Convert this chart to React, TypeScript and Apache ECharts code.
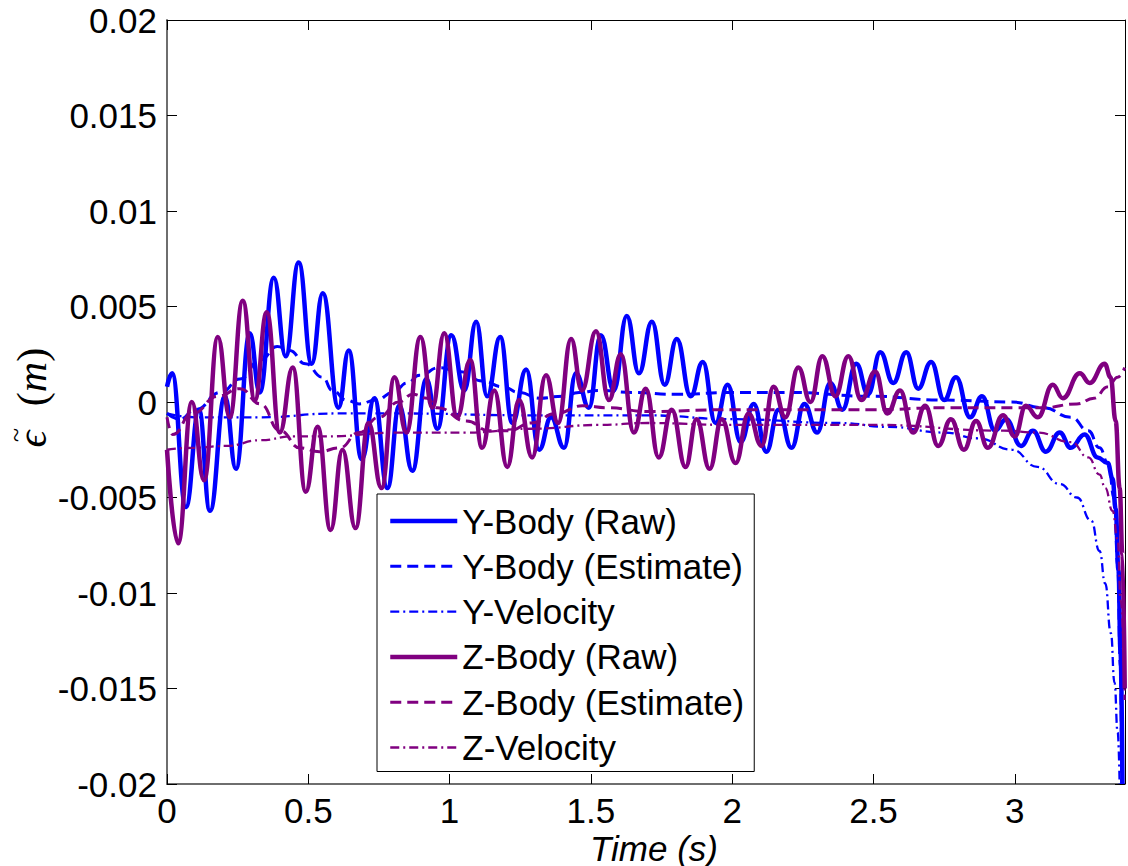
import React, { useEffect, useRef } from 'react';
import * as echarts from 'echarts';

// ---- Data (time in s, error in m) ----
const yRawT = [0.000, 0.018, 0.067, 0.113, 0.152, 0.205, 0.244, 0.293, 0.328, 0.378, 0.420, 0.466, 0.512, 0.551, 0.607, 0.643, 0.689, 0.734, 0.780, 0.822, 0.868, 0.918, 0.957, 1.006, 1.052, 1.094, 1.133, 1.179, 1.222, 1.271, 1.317, 1.359, 1.405, 1.447, 1.493, 1.535, 1.581, 1.627, 1.670, 1.716, 1.761, 1.804, 1.853, 1.896, 1.941, 1.984, 2.030, 2.076, 2.121, 2.164, 2.210, 2.255, 2.301, 2.347, 2.390, 2.439, 2.481, 2.524, 2.570, 2.616, 2.658, 2.704, 2.750, 2.792, 2.842, 2.884, 2.930, 2.969, 3.022, 3.064, 3.110, 3.159, 3.198, 3.247, 3.293, 3.329, 3.346, 3.357, 3.367, 3.374, 3.381];
const yRawV = [0.0008, 0.0015, -0.0055, -0.0004, -0.0057, 0.0003, -0.0035, 0.0036, 0.0005, 0.0065, 0.0024, 0.0073, 0.0020, 0.0057, -0.0003, 0.0027, -0.0030, 0.0002, -0.0045, -0.0002, -0.0036, 0.0012, -0.0014, 0.0035, 0.0006, 0.0042, 0.0003, 0.0034, -0.0011, 0.0017, -0.0025, -0.0008, -0.0024, 0.0015, -0.0003, 0.0035, 0.0006, 0.0045, 0.0015, 0.0042, 0.0009, 0.0033, 0.0003, 0.0021, -0.0011, 0.0009, -0.0021, -0.0001, -0.0026, -0.0004, -0.0024, -0.0001, -0.0016, 0.0010, -0.0004, 0.0020, 0.0004, 0.0026, 0.0010, 0.0026, 0.0007, 0.0021, 0.0001, 0.0013, -0.0008, 0.0003, -0.0015, -0.0009, -0.0023, -0.0015, -0.0026, -0.0016, -0.0024, -0.0017, -0.0029, -0.0032, -0.0040, -0.0056, -0.0088, -0.0130, -0.0200];

const yEstT = [0.000, 0.046, 0.100, 0.190, 0.258, 0.330, 0.390, 0.434, 0.490, 0.550, 0.586, 0.635, 0.680, 0.740, 0.800, 0.850, 0.893, 0.964, 1.034, 1.116, 1.187, 1.246, 1.317, 1.400, 1.458, 1.530, 1.645, 1.800, 2.000, 2.200, 2.490, 2.750, 2.990, 3.100, 3.200, 3.260, 3.300, 3.330, 3.353, 3.364, 3.374, 3.378];
const yEstV = [-0.0006, -0.0009, -0.0004, 0.0005, 0.0012, 0.0022, 0.0029, 0.0027, 0.0020, 0.0013, 0.0006, 0.0001, -0.0001, 0.0001, 0.0005, 0.0010, 0.0014, 0.0018, 0.0016, 0.0011, 0.0008, 0.0005, 0.0002, 0.0003, 0.0005, 0.0006, 0.0005, 0.0004, 0.0005, 0.0005, 0.0003, 0.0001, 0.0000, -0.0003, -0.0008, -0.0015, -0.0024, -0.0032, -0.0051, -0.0086, -0.0139, -0.0200];

const yVelT = [0.000, 0.100, 0.330, 0.600, 0.820, 1.300, 1.700, 2.000, 2.380, 2.550, 2.750, 2.870, 2.990, 3.080, 3.160, 3.220, 3.270, 3.300, 3.320, 3.340, 3.353, 3.364, 3.371];
const yVelV = [-0.0006, -0.0008, -0.0008, -0.0006, -0.0006, -0.0007, -0.0007, -0.0009, -0.0011, -0.0013, -0.0016, -0.0019, -0.0025, -0.0034, -0.0043, -0.0050, -0.0062, -0.0078, -0.0095, -0.0121, -0.0147, -0.0173, -0.0200];

const zRawT = [0.000, 0.039, 0.088, 0.131, 0.180, 0.222, 0.268, 0.311, 0.353, 0.399, 0.445, 0.491, 0.533, 0.579, 0.621, 0.667, 0.713, 0.759, 0.805, 0.847, 0.897, 0.939, 0.981, 1.027, 1.073, 1.115, 1.158, 1.204, 1.246, 1.292, 1.341, 1.384, 1.430, 1.468, 1.518, 1.564, 1.606, 1.652, 1.694, 1.740, 1.786, 1.835, 1.874, 1.920, 1.963, 2.012, 2.058, 2.104, 2.146, 2.188, 2.234, 2.277, 2.319, 2.365, 2.411, 2.457, 2.506, 2.549, 2.594, 2.640, 2.683, 2.729, 2.774, 2.820, 2.863, 2.905, 2.958, 3.000, 3.039, 3.082, 3.134, 3.170, 3.230, 3.265, 3.318, 3.339, 3.357, 3.371, 3.381, 3.389];
const zRawV = [-0.0025, -0.0074, 0.0000, -0.0041, 0.0034, -0.0008, 0.0053, 0.0001, 0.0047, -0.0016, 0.0018, -0.0047, -0.0013, -0.0067, -0.0025, -0.0066, -0.0011, -0.0045, 0.0013, -0.0016, 0.0034, -0.0003, 0.0036, -0.0008, 0.0022, -0.0024, 0.0006, -0.0034, 0.0001, -0.0029, 0.0014, -0.0011, 0.0033, 0.0006, 0.0037, 0.0001, 0.0025, -0.0016, 0.0007, -0.0029, -0.0004, -0.0034, -0.0009, -0.0035, -0.0009, -0.0032, -0.0006, -0.0023, 0.0008, -0.0008, 0.0018, 0.0000, 0.0024, 0.0003, 0.0024, 0.0001, 0.0016, -0.0006, 0.0006, -0.0016, -0.0002, -0.0023, -0.0009, -0.0025, -0.0010, -0.0024, -0.0007, -0.0018, -0.0002, -0.0008, 0.0009, 0.0002, 0.0015, 0.0010, 0.0020, 0.0013, -0.0010, -0.0045, -0.0080, -0.0150];

const zEstT = [0.000, 0.020, 0.090, 0.180, 0.258, 0.330, 0.400, 0.470, 0.540, 0.610, 0.680, 0.750, 0.820, 0.870, 0.920, 0.957, 1.060, 1.140, 1.210, 1.290, 1.376, 1.470, 1.560, 1.700, 2.000, 2.500, 2.750, 3.000, 3.100, 3.220, 3.280, 3.330, 3.364, 3.389];
const zEstV = [-0.0008, -0.0017, -0.0006, 0.0003, 0.0007, -0.0001, -0.0015, -0.0024, -0.0026, -0.0024, -0.0016, -0.0008, 0.0000, 0.0004, 0.0002, -0.0003, -0.0010, -0.0015, -0.0015, -0.0011, -0.0006, -0.0002, -0.0003, -0.0005, -0.0004, -0.0004, -0.0003, -0.0003, -0.0003, -0.0001, 0.0002, 0.0008, 0.0013, 0.0018];

const zVelT = [0.000, 0.090, 0.210, 0.330, 0.445, 0.565, 0.820, 1.060, 1.290, 1.530, 1.700, 2.000, 2.500, 2.960, 3.080, 3.200, 3.260, 3.300, 3.320, 3.346, 3.364, 3.375, 3.389];
const zVelV = [-0.0025, -0.0024, -0.0023, -0.0020, -0.0018, -0.0018, -0.0016, -0.0016, -0.0014, -0.0012, -0.0011, -0.0012, -0.0012, -0.0015, -0.0016, -0.0021, -0.0029, -0.0038, -0.0045, -0.0057, -0.0072, -0.0104, -0.0156];

const xTicks = { min: 0, max: 3.39, interval: 0.5 };
const yTicks = { min: -0.02, max: 0.02, interval: 0.005 };
const legendNames = ['Y-Body (Raw)', 'Y-Body (Estimate)', 'Y-Velocity', 'Z-Body (Raw)', 'Z-Body (Estimate)', 'Z-Velocity'];
const xTitle = 'Time (s)';

const BLUE = '#0000ff';
const PURPLE = '#800080';
const SANS = "'Liberation Sans', Arial, Helvetica, sans-serif";
const SERIF = "'Liberation Serif', 'DejaVu Serif', serif";
const DASH = [11, 6];
const DASHDOT = [9, 4, 2, 4];
const RAW_W = 4.5;
const EST_W = 3;
const VEL_W = 2.3;

function mk(name: string, ts: number[], vs: number[], color: string, width: number, type: any, smooth: any) {
  return {
    type: 'line',
    name,
    data: ts.map((t, i) => [t, vs[i]]),
    symbol: 'none',
    showSymbol: false,
    smooth,
    smoothMonotone: 'x',
    clip: true,
    lineStyle: { color, width, type },
    itemStyle: { color },
  };
}

export default function App() {
  const ref = useRef<HTMLDivElement>(null);
  useEffect(() => {
    document.body.style.margin = '0';
    const chart = echarts.init(ref.current!, null, { renderer: 'svg' });
    const isMult = (v: number, step: number) => Math.abs(v / step - Math.round(v / step)) < 1e-6;
    const legendStyles = [
      { color: BLUE, width: RAW_W, type: 'solid' },
      { color: BLUE, width: EST_W, type: DASH },
      { color: BLUE, width: VEL_W, type: DASHDOT },
      { color: PURPLE, width: RAW_W, type: 'solid' },
      { color: PURPLE, width: EST_W, type: DASH },
      { color: PURPLE, width: VEL_W, type: DASHDOT },
    ];
    const option: any = {
      animation: false,
      backgroundColor: '#fff',
      grid: { left: 167, right: 1, top: 20, bottom: 82, containLabel: false },
      xAxis: [
        {
          type: 'value', position: 'bottom', ...xTicks,
          axisLine: { show: true, onZero: false, lineStyle: { color: '#6e6e6e', width: 2 } },
          axisTick: { show: true, inside: true, length: 10, lineStyle: { color: '#000', width: 1 } },
          axisLabel: {
            margin: 9, fontSize: 35, color: '#000', fontFamily: SANS,
            formatter: (v: number) => (isMult(v, 0.5) ? String(+v.toFixed(2)) : ''),
          },
          splitLine: { show: false },
        },
        {
          type: 'value', position: 'top', ...xTicks,
          axisLine: { show: true, onZero: false, lineStyle: { color: '#000', width: 1 } },
          axisTick: { show: true, inside: true, length: 10, lineStyle: { color: '#000', width: 1 } },
          axisLabel: { show: false },
          splitLine: { show: false },
        },
      ],
      yAxis: [
        {
          type: 'value', position: 'left', ...yTicks,
          axisLine: { show: true, onZero: false, lineStyle: { color: '#6e6e6e', width: 2 } },
          axisTick: { show: true, inside: true, length: 10, lineStyle: { color: '#000', width: 1 } },
          axisLabel: {
            margin: 10, fontSize: 35, color: '#000', fontFamily: SANS,
            formatter: (v: number) => String(+v.toFixed(3)),
          },
          splitLine: { show: false },
        },
        {
          type: 'value', position: 'right', ...yTicks,
          axisLine: { show: true, onZero: false, lineStyle: { color: '#000', width: 1 } },
          axisTick: { show: true, inside: true, length: 10, lineStyle: { color: '#000', width: 1 } },
          axisLabel: { show: false },
          splitLine: { show: false },
        },
      ],
      legend: {
        orient: 'vertical',
        left: 377,
        top: 494,
        itemWidth: 67,
        itemHeight: 14,
        itemGap: 9.3,
        padding: [9, 10, 6, 11],
        borderColor: '#000',
        borderWidth: 1,
        backgroundColor: '#fff',
        selectedMode: false,
        itemStyle: { opacity: 0 },
        textStyle: { fontSize: 35, color: '#000', fontFamily: SANS, lineHeight: 36 },
        data: legendNames.map((name, i) => ({ name, lineStyle: legendStyles[i], itemStyle: { opacity: 0 } })),
      },
      graphic: [
        {
          type: 'text', x: 654, y: 848,
          style: {
            text: xTitle, fontSize: 35, fontStyle: 'italic', fontFamily: SANS, fill: '#000',
            align: 'center', verticalAlign: 'middle',
          },
        },
        {
          type: 'text', x: 32, y: 439, rotation: Math.PI / 2,
          style: {
            text: '\u03F5', fontSize: 42, fontStyle: 'italic', fontFamily: SERIF, fill: '#000',
            align: 'center', verticalAlign: 'middle',
          },
        },
        {
          type: 'text', x: 15, y: 435, rotation: Math.PI / 2,
          style: {
            text: '~', fontSize: 26, fontFamily: SERIF, fill: '#000',
            align: 'center', verticalAlign: 'middle',
          },
        },
        {
          type: 'text', x: 32, y: 377, rotation: Math.PI / 2,
          style: {
            text: '{p|(}{m|m}{p|)}',
            align: 'center', verticalAlign: 'middle',
            rich: {
              p: { fontSize: 42, fontFamily: SERIF, fill: '#000' },
              m: { fontSize: 42, fontStyle: 'italic', fontFamily: SERIF, fill: '#000' },
            },
          },
        },
      ],
      series: [
        mk(legendNames[0], yRawT, yRawV, BLUE, RAW_W, 'solid', 0.45),
        mk(legendNames[1], yEstT, yEstV, BLUE, EST_W, DASH, 0.5),
        mk(legendNames[2], yVelT, yVelV, BLUE, VEL_W, DASHDOT, 0.5),
        mk(legendNames[3], zRawT, zRawV, PURPLE, RAW_W, 'solid', 0.45),
        mk(legendNames[4], zEstT, zEstV, PURPLE, EST_W, DASH, 0.5),
        mk(legendNames[5], zVelT, zVelV, PURPLE, VEL_W, DASHDOT, 0.5),
      ],
    };
    chart.setOption(option);
    return () => chart.dispose();
  }, []);
  return <div ref={ref} style={{ width: 1128, height: 866 }} />;
}
